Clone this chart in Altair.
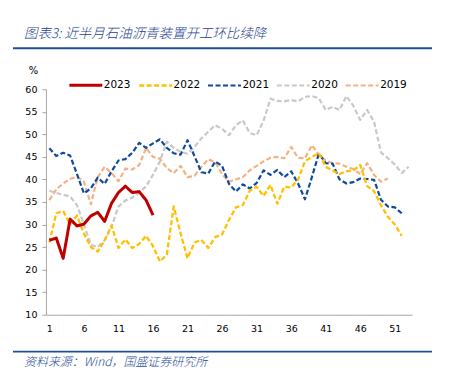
import altair as alt
import pandas as pd

title_text = "图表3: 近半月石油沥青装置开工环比续降"
source_text = "资料来源：Wind，国盛证券研究所"

series = ["2023", "2022", "2021", "2020", "2019"]
colors = ["#C00000", "#FFC000", "#0E4A9E", "#C8C8C8", "#F4B183"]
dashes = [[1, 0], [5, 2.5], [5, 2.5], [5, 2.5], [5, 2.5]]
widths = [3, 2.3, 2.2, 2.2, 2.2]

x_ticks = [1, 6, 11, 16, 21, 26, 31, 36, 41, 46, 51]
y_ticks = [10, 15, 20, 25, 30, 35, 40, 45, 50, 55, 60]

y2023 = [26.5, 27.0, 22.5, 31.2, 29.7, 30.1, 31.9, 32.7, 30.7, 34.7, 37.1, 38.5,
         37.1, 37.3, 35.4, 32.1]

y2022 = [26.0, 32.5, 33.0, 30.0, 32.0, 28.0, 25.0, 24.0, 26.5, 29.8, 24.8, 26.7,
         24.8, 25.7, 27.5, 25.2, 21.8, 23.3, 34.0, 28.0, 22.5, 26.0, 26.6, 24.8,
         27.2, 27.8, 31.0, 33.8, 34.3, 37.5, 38.4, 36.3, 38.8, 34.6, 38.4, 38.2,
         40.0, 44.0, 45.0, 45.8, 42.8, 42.0, 41.2, 41.8, 42.0, 43.2, 38.5, 37.4,
         34.3, 31.7, 30.0, 27.5]

y2021 = [46.9, 45.2, 45.9, 45.3, 41.2, 36.9, 38.0, 40.4, 39.0, 41.8, 44.2, 44.5,
         45.9, 48.1, 47.0, 48.0, 48.9, 47.0, 45.8, 45.5, 48.7, 45.2, 41.6, 41.3,
         44.0, 43.0, 39.0, 37.3, 38.9, 38.0, 39.2, 42.0, 41.0, 42.1, 40.5, 41.8,
         39.1, 35.6, 40.5, 45.7, 43.6, 43.5, 40.0, 39.1, 39.4, 40.2, 40.1, 39.9,
         35.5, 34.0, 33.8, 32.5]

y2020 = [37.5, 37.0, 36.6, 36.2, 34.3, 30.0, 25.5, 25.0, 26.5, 29.5, 34.0, 35.3,
         36.0, 37.0, 38.5, 41.0, 44.0, 48.4, 47.0, 46.1, 45.7, 47.2, 49.1, 50.6,
         52.0, 51.2, 49.8, 52.0, 53.1, 50.3, 49.8, 53.0, 57.9, 57.4, 57.3, 57.6,
         57.3, 58.3, 58.5, 58.0, 55.4, 56.1, 55.4, 58.5, 56.3, 53.2, 55.4, 52.8,
         46.0, 44.7, 43.3, 41.4, 42.8]

y2019 = [35.4, 37.8, 39.1, 40.1, 40.6, 39.5, 34.5, 40.5, 42.8, 41.4, 39.6, 42.4,
         42.2, 43.2, 47.0, 45.0, 44.6, 42.5, 41.4, 43.0, 40.5, 40.8, 42.8, 44.5,
         43.8, 41.2, 39.5, 40.0, 40.5, 42.0, 43.0, 44.0, 44.8, 45.0, 44.7, 47.2,
         44.8, 44.7, 47.6, 45.5, 44.2, 43.6, 43.5, 42.8, 42.3, 41.2, 43.6, 41.0,
         39.5, 40.2]

rows = []
for name, vals in [("2019", y2019), ("2020", y2020), ("2021", y2021),
                   ("2022", y2022), ("2023", y2023)]:
    for i, v in enumerate(vals):
        rows.append({"week": i + 1, "value": v, "year": name})
df = pd.DataFrame(rows)

legend_cfg = dict(
    orient="none", direction="horizontal", legendX=22, legendY=-22,
    title=None, symbolType="stroke", symbolSize=1089, labelFont="DejaVu Sans",
    labelFontSize=10.5, labelColor="#000000", labelOffset=0, columnPadding=3,
    padding=0,
)

lines = alt.Chart(df).mark_line(strokeJoin="round").encode(
    x=alt.X("week:Q",
            scale=alt.Scale(domain=[0.5, 53.5], nice=False, zero=False),
            axis=alt.Axis(values=x_ticks, ticks=False, tickSize=0, labelPadding=9,
                          grid=False, title=None, domainColor="#A6A6A6",
                          labelFont="DejaVu Sans", labelFontSize=9.5,
                          labelColor="#000000")),
    y=alt.Y("value:Q",
            scale=alt.Scale(domain=[10, 60], nice=False, zero=False),
            axis=alt.Axis(values=y_ticks, tickSize=4, labelPadding=5, grid=False,
                          domainColor="#A6A6A6", tickColor="#A6A6A6",
                          labelFont="DejaVu Sans", labelFontSize=9.5,
                          labelColor="#000000", title="%", titleAngle=0,
                          titleX=-13, titleY=-19, titleAlign="center",
                          titleBaseline="middle", titleFont="DejaVu Sans",
                          titleFontSize=10, titleFontWeight="normal",
                          titleColor="#000000")),
    color=alt.Color("year:N", scale=alt.Scale(domain=series, range=colors),
                    legend=alt.Legend(**legend_cfg)),
    strokeDash=alt.StrokeDash("year:N", scale=alt.Scale(domain=series, range=dashes),
                              legend=alt.Legend(**legend_cfg)),
    strokeWidth=alt.StrokeWidth("year:N",
                                scale=alt.Scale(type="ordinal", domain=series, range=widths),
                                legend=alt.Legend(**legend_cfg)),
    detail="year:N",
)

title_df = pd.DataFrame({"t": [title_text]})
source_df = pd.DataFrame({"t": [source_text]})
one = pd.DataFrame({"k": [0]})

title = alt.Chart(title_df).mark_text(
    align="left", baseline="middle", font="Noto Sans CJK SC", fontSize=13.5,
    fontStyle="italic", fontWeight=300, color="#1F3F8F"
).encode(text="t:N", x=alt.value(-22), y=alt.value(-55))

title_rule = alt.Chart(one).mark_rule(color="#1F4E9A", strokeWidth=2).encode(
    x=alt.value(-33), x2=alt.value(387), y=alt.value(-41))

source_rule = alt.Chart(one).mark_rule(color="#1F4E9A", strokeWidth=2).encode(
    x=alt.value(-33), x2=alt.value(387), y=alt.value(263))

source = alt.Chart(source_df).mark_text(
    align="left", baseline="middle", font="Noto Sans CJK SC", fontSize=12,
    fontStyle="italic", fontWeight=300, color="#1F4E9A"
).encode(text="t:N", x=alt.value(-22), y=alt.value(273))

chart = alt.layer(lines, title, title_rule, source_rule, source).properties(
    width=367, height=226, autosize="none",
    padding={"left": 38, "top": 81, "right": 30, "bottom": 55},
).configure_view(stroke=None)

chart.save("out.html", embed_options={"renderer": "svg", "actions": False})
